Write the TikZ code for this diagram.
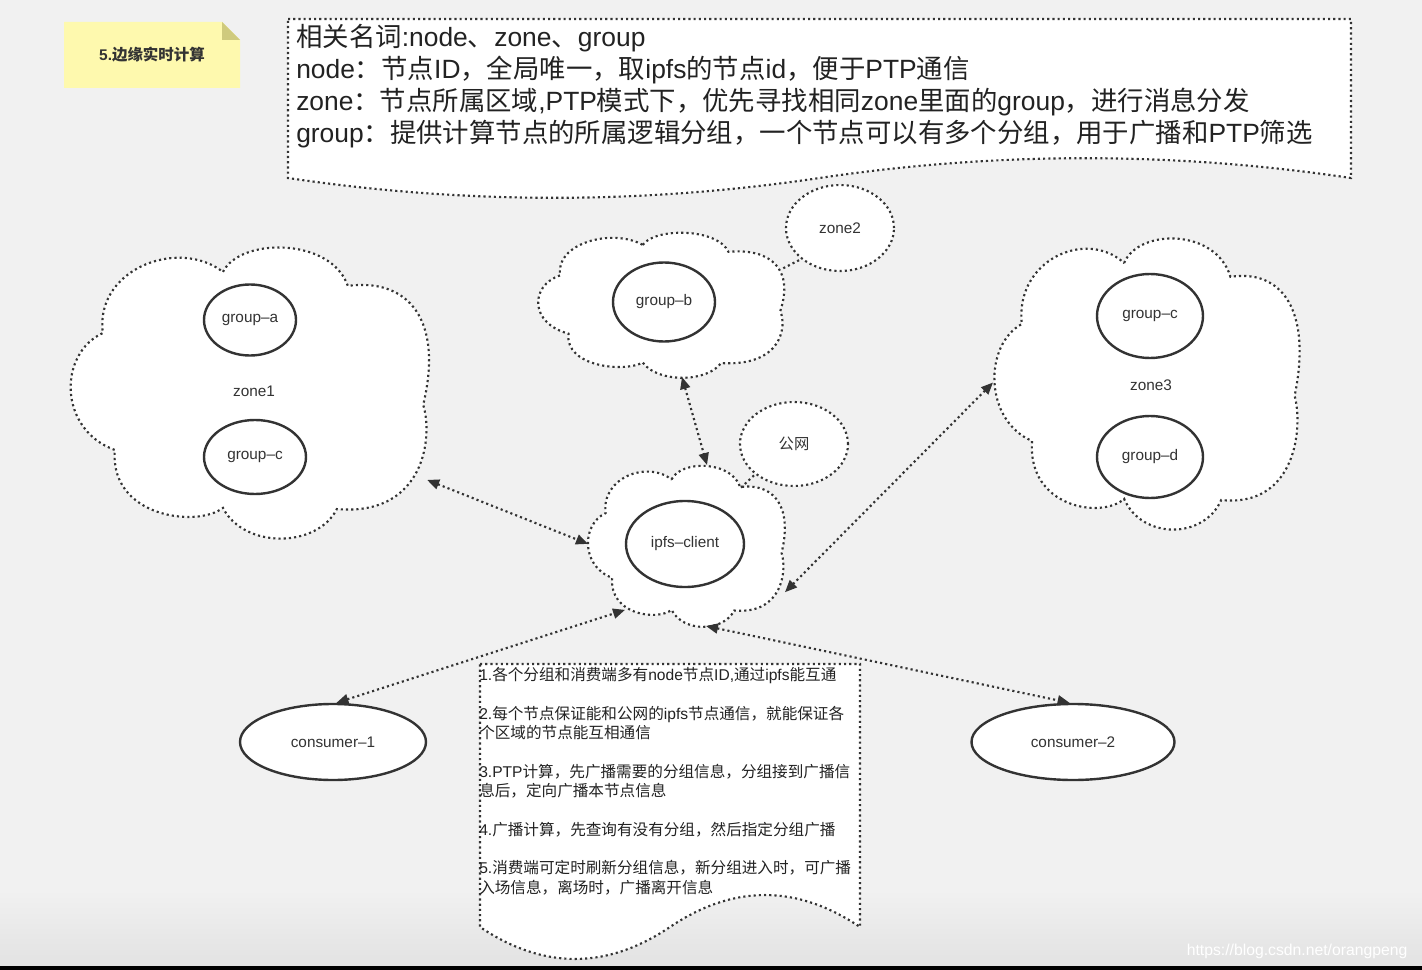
\documentclass[tikz,border=0pt]{standalone}
\usepackage{fontspec}
\setmainfont{Liberation Sans}
\newfontfamily\lat{Liberation Sans}
\newfontfamily\cjk{Noto Sans CJK SC}
\usetikzlibrary{arrows.meta,shapes.geometric}
% automatic switch between Latin and CJK fonts
\XeTeXinterchartokenstate=1
\newXeTeXintercharclass\cjkcls
\newcount\cjkcc
\def\setcjkrange#1#2{\cjkcc=#1\relax\loop\XeTeXcharclass\cjkcc=\cjkcls\relax\ifnum\cjkcc<#2\relax\advance\cjkcc by 1\relax\repeat}
\setcjkrange{"3000}{"303F}
\setcjkrange{"4E00}{"9FFF}
\setcjkrange{"FF00}{"FFEF}
\XeTeXinterchartoks 0 \cjkcls = {\cjk}
\XeTeXinterchartoks 4095 \cjkcls = {\cjk}
\XeTeXinterchartoks \cjkcls 0 = {\lat}
\XeTeXinterchartoks \cjkcls 4095 = {\lat}

\definecolor{ink}{HTML}{333333}
\definecolor{txt}{HTML}{222222}
\definecolor{bg}{HTML}{F1F1F1}
\definecolor{bgdark}{HTML}{E2E2E2}
\definecolor{noteY}{HTML}{FEF9AE}
\definecolor{noteF}{HTML}{CFCA7D}
\newcommand\lblfont{\fontsize{11.5pt}{13pt}\selectfont}
\newcommand\cloudpath{(0.423,0.089) .. controls (0.47,-0.03) and (0.72,-0.03) .. (0.766,0.137) .. controls (0.93,0.11) and (1.03,0.25) .. (0.973,0.546) .. controls (1.0,0.65) and (0.98,0.93) .. (0.736,0.904) .. controls (0.68,1.04) and (0.48,1.04) .. (0.423,0.900) .. controls (0.35,0.97) and (0.11,0.93) .. (0.126,0.701) .. controls (-0.03,0.63) and (-0.03,0.37) .. (0.093,0.299) .. controls (0.07,0.08) and (0.3,-0.03) .. cycle}

\tikzset{
  dotline/.style={draw=ink, line width=1.6pt, dash pattern=on 1.6pt off 2.3pt},
  cloudline/.style={dotline, fill=white},
  docbox/.style={dotline, fill=white},
  lbl/.style={font=\lblfont, text=ink},
  grp/.style={ellipse, draw=ink, line width=1.8pt, fill=white, inner sep=0pt, lbl},
  dotell/.style={ellipse, dotline, fill=white, inner sep=0pt, lbl},
  arr/.style={dotline, {Triangle[length=9pt,width=7.5pt]}-{Triangle[length=9pt,width=7.5pt]}},
}

\begin{document}
\begin{tikzpicture}[x=0.75pt,y=-0.75pt]
\useasboundingbox (0,0) rectangle (1422,970);
% background
\fill[bg] (0,0) rectangle (1422,970);
\shade[top color=bg, bottom color=bgdark] (0,890) rectangle (1422,967);
\fill[black] (0,966) rectangle (1422,970);

% title note
\fill[noteY] (64,22) -- (222,22) -- (240,40) -- (240,88) -- (64,88) -- cycle;
\fill[noteF] (222,22) -- (222,40) -- (240,40) -- cycle;
\node[font=\bfseries\fontsize{11.6pt}{13pt}\selectfont, text=ink] (title) at (152,55) {5.边缘实时计算};

% terms box
\path[docbox] (288,19) -- (1351,19) -- (1351,178) .. controls (1173.8,151.6) and (996.7,151.6) .. (819.5,178) .. controls (642.3,204.4) and (465.2,204.4) .. (288,178) -- cycle;
\node[anchor=north west, align=left, inner sep=0pt, text=txt, font=\fontsize{19.8pt}{24pt}\selectfont] (terms) at (296,24) {相关名词:node、zone、group\\node：节点ID，全局唯一，取ipfs的节点id，便于PTP通信\\zone：节点所属区域,PTP模式下，优先寻找相同zone里面的group，进行消息分发\\group：提供计算节点的所属逻辑分组，一个节点可以有多个分组，用于广播和PTP筛选};

% clouds
\begin{scope}[shift={(69,246)},xscale=364,yscale=291]
  \path[cloudline] \cloudpath;
  \coordinate (z1E) at (0.984,0.804);
\end{scope}
\begin{scope}[shift={(537,232)},xscale=250,yscale=145]
  \path[cloudline] \cloudpath;
  \coordinate (gbB) at (0.58,1.0);
  \coordinate (gbR) at (0.985,0.25);
\end{scope}
\begin{scope}[shift={(587,465)},xscale=200,yscale=161]
  \path[cloudline] \cloudpath;
  \coordinate (ipL) at (0.005,0.49);
  \coordinate (ipT) at (0.6,0.0);
  \coordinate (ipR) at (0.99,0.79);
  \coordinate (ipBL) at (0.19,0.9);
  \coordinate (ipB) at (0.595,1.0);
  \coordinate (ipN) at (0.77,0.14);
\end{scope}
\begin{scope}[shift={(993,237)},xscale=310,yscale=291]
  \path[cloudline] \cloudpath;
  \coordinate (z3W) at (0.0,0.5);
\end{scope}

% zone labels
\node[lbl] (zone1) at (254,391) {zone1};
\node[lbl] (zone3) at (1151,385) {zone3};

% ellipses
\node[grp, minimum width=69pt, minimum height=53.25pt] (ga) at (250,320) {group–a};
\node[grp, minimum width=76.5pt, minimum height=55.5pt] (gc1) at (255,457) {group–c};
\node[grp, minimum width=76.5pt, minimum height=59.25pt] (gb) at (664,302) {group–b};
\node[dotell, minimum width=81pt, minimum height=64.5pt] (zone2) at (840,228) {zone2};
\node[grp, minimum width=88.5pt, minimum height=64.5pt] (ipfs) at (685,544) {ipfs–client};
\node[dotell, minimum width=81pt, minimum height=63pt] (gw) at (794,444) {公网};
\node[grp, minimum width=79.5pt, minimum height=63pt] (gc3) at (1150,316) {group–c};
\node[grp, minimum width=79.5pt, minimum height=61.5pt] (gd) at (1150,457) {group–d};
\node[grp, minimum width=139.5pt, minimum height=57pt] (c1) at (333,742) {consumer–1};
\node[grp, minimum width=152.25pt, minimum height=57pt] (c2) at (1073,742) {consumer–2};

% short links
\draw[dotline] (gbR) -- (zone2.south west);
\draw[dotline] (ipN) -- (gw.south west);

% arrows
\draw[arr] (z1E) -- (ipL);
\draw[arr] (gbB) -- (ipT);
\draw[arr] (z3W) -- (ipR);
\draw[arr] (c1.85) -- (ipBL);
\draw[arr] (ipB) -- (c2.95);

% notes box
\path[docbox] (480,664) -- (860,664) -- (860,927) .. controls (796.7,884.4) and (733.3,884.4) .. (670,927) .. controls (606.7,969.6) and (543.3,969.6) .. (480,927) -- cycle;
\node[anchor=north west, align=left, inner sep=0pt, text=txt, font=\fontsize{11.7pt}{14.5pt}\selectfont] (notes) at (479,667) {1.各个分组和消费端多有node节点ID,通过ipfs能互通\\[14.5pt]2.每个节点保证能和公网的ipfs节点通信，就能保证各\\个区域的节点能互相通信\\[14.5pt]3.PTP计算，先广播需要的分组信息，分组接到广播信\\息后，定向广播本节点信息\\[14.5pt]4.广播计算，先查询有没有分组，然后指定分组广播\\[14.5pt]5.消费端可定时刷新分组信息，新分组进入时，可广播\\入场信息，离场时，广播离开信息};

% watermark
\node[anchor=east, text=white, font=\fontsize{11.8pt}{13pt}\selectfont] (wm) at (1412,951) {https://blog.csdn.net/orangpeng};
\end{tikzpicture}
\end{document}
